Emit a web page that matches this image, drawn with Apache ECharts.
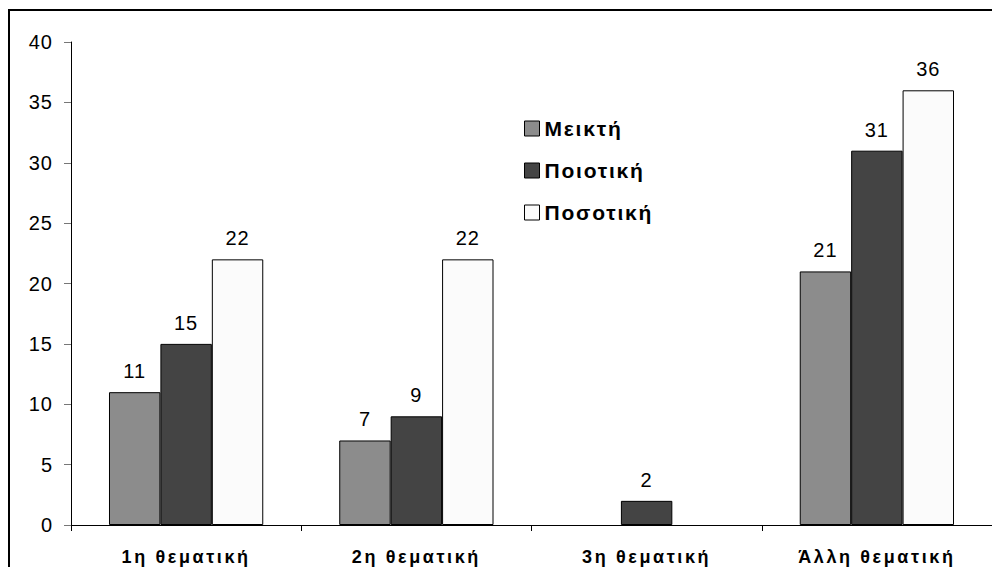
<!DOCTYPE html>
<html><head><meta charset="utf-8">
<script src="https://cdn.jsdelivr.net/npm/echarts@6/dist/echarts.min.js"></script>
<style>html,body{margin:0;padding:0;background:#fff}#c{width:992px;height:567px}
#c text{letter-spacing:1px}
</style>
</head><body><div id="c"></div>
<script>
const categories = ['1η θεματική', '2η θεματική', '3η θεματική', 'Άλλη θεματική'];
const mikti = [11, 7, null, 21];
const poiotiki = [15, 9, 2, 31];
const posotiki = [22, 22, null, 36];
const seriesNames = ['Μεικτή', 'Ποιοτική', 'Ποσοτική'];
const colors = ['#8c8c8c', '#444444', '#fbfbfb'];

const chart = echarts.init(document.getElementById('c'), null, { renderer: 'svg' });
const font = '"Liberation Sans", Arial, sans-serif';
const mk = (name, data, color) => ({
  name, type: 'bar', data, barGap: '0%', barCategoryGap: '33%',
  itemStyle: { color, borderColor: '#000', borderWidth: 1 },
  label: { show: true, position: 'top', distance: 11, color: '#000', fontSize: 20, fontFamily: font }
});
chart.setOption({
  animation: false,
  textStyle: { fontFamily: font },
  grid: { left: 71, right: -9, top: 42, bottom: 42, containLabel: false },
  legend: {
    orient: 'vertical', left: 519, top: 113, itemGap: 21, itemWidth: 15, itemHeight: 15, icon: 'rect',
    data: seriesNames.map(n => ({ name: n, itemStyle: { borderColor: '#000', borderWidth: 1 } })),
    textStyle: { fontSize: 21, fontWeight: 'bold', color: '#000', fontFamily: font }
  },
  xAxis: {
    type: 'category', data: categories,
    axisLine: { lineStyle: { color: '#000', width: 1 } },
    axisTick: { show: true, inside: false, length: 6, lineStyle: { color: '#000' } },
    axisLabel: { fontSize: 18, fontWeight: 'bold', color: '#000', margin: 23, fontFamily: font }
  },
  yAxis: {
    type: 'value', min: 0, max: 40, interval: 5,
    axisLine: { show: true, lineStyle: { color: '#000', width: 1 } },
    axisTick: { show: true, length: 7, lineStyle: { color: '#777' } },
    splitLine: { show: false },
    axisLabel: { fontSize: 20, color: '#000', margin: 18, fontFamily: font }
  },
  graphic: [{
    type: 'rect', shape: { x: 9, y: 10, width: 1000, height: 600 },
    style: { fill: 'none', stroke: '#000', lineWidth: 2 }, silent: true, z: 100
  }],
  series: [mk(seriesNames[0], mikti, colors[0]), mk(seriesNames[1], poiotiki, colors[1]), mk(seriesNames[2], posotiki, colors[2])]
});
function spaceOut() {
  document.querySelectorAll('#c text').forEach(t => {
    const s = t.textContent.trim();
    if (categories.includes(s)) t.setAttribute('style', (t.getAttribute('style') || '') + ';letter-spacing:2.6px');
    else if (seriesNames.includes(s)) t.setAttribute('style', (t.getAttribute('style') || '') + ';letter-spacing:1.8px');
  });
}
chart.on('finished', spaceOut);
spaceOut();
</script></body></html>
